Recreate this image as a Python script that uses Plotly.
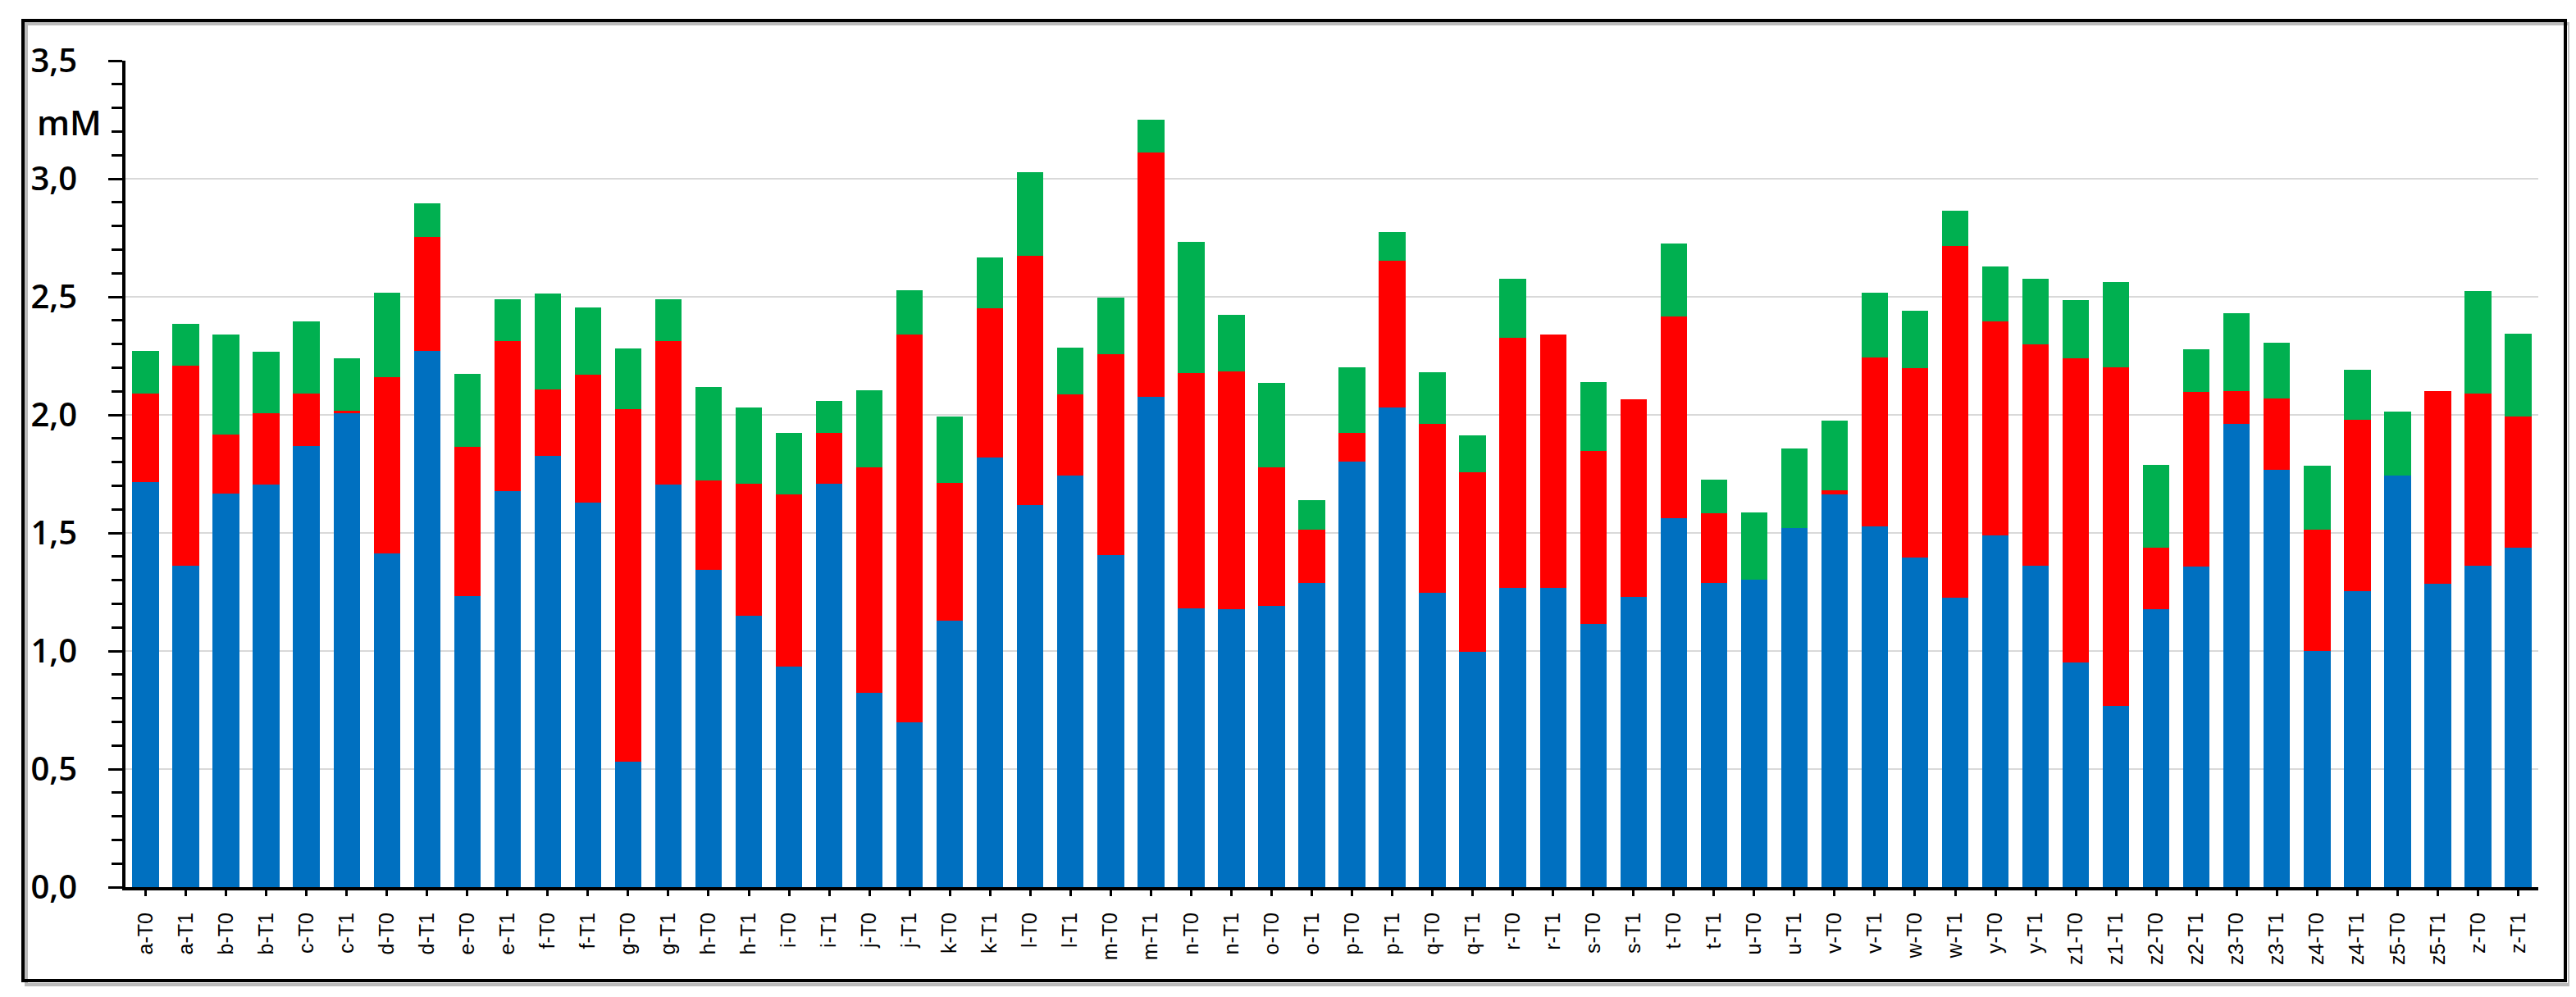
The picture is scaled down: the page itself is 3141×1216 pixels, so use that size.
import plotly.graph_objects as go

categories = [
    "a-T0", "a-T1", "b-T0", "b-T1", "c-T0", "c-T1", "d-T0", "d-T1", "e-T0", "e-T1",
    "f-T0", "f-T1", "g-T0", "g-T1", "h-T0", "h-T1", "i-T0", "i-T1", "j-T0", "j-T1",
    "k-T0", "k-T1", "l-T0", "l-T1", "m-T0", "m-T1", "n-T0", "n-T1", "o-T0", "o-T1",
    "p-T0", "p-T1", "q-T0", "q-T1", "r-T0", "r-T1", "s-T0", "s-T1", "t-T0", "t-T1",
    "u-T0", "u-T1", "v-T0", "v-T1", "w-T0", "w-T1", "y-T0", "y-T1", "z1-T0", "z1-T1",
    "z2-T0", "z2-T1", "z3-T0", "z3-T1", "z4-T0", "z4-T1", "z5-T0", "z5-T1", "z-T0", "z-T1",
]

blue_values = [
    1.715, 1.360, 1.667, 1.705, 1.868, 2.008, 1.412, 2.272, 1.234, 1.678,
    1.826, 1.628, 0.533, 1.705, 1.345, 1.151, 0.935, 1.709, 0.822, 0.699,
    1.130, 1.820, 1.619, 1.743, 1.406, 2.077, 1.182, 1.178, 1.192, 1.289,
    1.803, 2.033, 1.245, 0.998, 1.268, 1.268, 1.113, 1.228, 1.563, 1.289,
    1.301, 1.521, 1.663, 1.527, 1.397, 1.224, 1.490, 1.360, 0.952, 0.768,
    1.178, 1.356, 1.962, 1.768, 1.000, 1.255, 1.743, 1.285, 1.360, 1.437,
]

red_values = [
    0.377, 0.847, 0.251, 0.303, 0.224, 0.011, 0.747, 0.481, 0.632, 0.636,
    0.281, 0.541, 1.490, 0.607, 0.377, 0.556, 0.728, 0.216, 0.956, 1.640,
    0.583, 0.632, 1.053, 0.343, 0.851, 1.034, 0.994, 1.006, 0.586, 0.224,
    0.120, 0.620, 0.717, 0.759, 1.060, 1.071, 0.734, 0.839, 0.853, 0.293,
    0.000, 0.000, 0.019, 0.716, 0.800, 1.491, 0.905, 0.937, 1.286, 1.435,
    0.261, 0.742, 0.138, 0.301, 0.513, 0.724, 0.000, 0.815, 0.732, 0.557,
]

green_values = [
    0.178, 0.178, 0.421, 0.258, 0.303, 0.219, 0.358, 0.144, 0.306, 0.176,
    0.408, 0.285, 0.257, 0.178, 0.397, 0.326, 0.262, 0.134, 0.327, 0.190,
    0.279, 0.215, 0.355, 0.199, 0.239, 0.139, 0.556, 0.239, 0.358, 0.127,
    0.280, 0.123, 0.220, 0.157, 0.247, 0.000, 0.293, 0.000, 0.308, 0.142,
    0.287, 0.335, 0.293, 0.276, 0.244, 0.151, 0.235, 0.280, 0.247, 0.360,
    0.348, 0.180, 0.331, 0.236, 0.272, 0.211, 0.272, 0.000, 0.431, 0.349,
]

W, H = 3141, 1216
ML, MR, MT, MB = 145, 54, 66, 142
PW = W - ML - MR
PH = H - MT - MB


def px_to_paper_x(px):
    return (px - ML) / PW


def px_to_paper_y(py):
    return (H - MB - py) / PH


fig = go.Figure()
for vals, col, name in [
    (blue_values, "#0070C0", "blue"),
    (red_values, "#FF0000", "red"),
    (green_values, "#00B050", "green"),
]:
    fig.add_trace(go.Bar(
        x=categories, y=vals, name=name,
        marker=dict(color=col, line=dict(width=0)),
    ))

fig.update_layout(
    barmode="stack",
    bargap=0.34,
    width=W, height=H,
    margin=dict(l=ML, r=MR, t=MT, b=MB, autoexpand=False),
    paper_bgcolor="white",
    plot_bgcolor="white",
    showlegend=False,
    separators=",.",
    font=dict(family="Open Sans", color="black"),
)

fig.update_yaxes(
    range=[0, 3.5],
    dtick=0.5,
    tick0=0,
    tickformat=".1f",
    showgrid=True,
    gridcolor="#D9D9D9",
    gridwidth=2,
    zeroline=False,
    showline=True,
    linecolor="black",
    linewidth=4,
    ticks="outside",
    ticklen=17,
    tickwidth=3,
    tickcolor="black",
    ticklabelstandoff=30,
    tickfont=dict(family="Open Sans", size=40, color="black", weight=600),
    minor=dict(dtick=0.1, ticks="outside", ticklen=13, tickwidth=3,
               tickcolor="black", showgrid=False),
    automargin=False,
)

fig.update_xaxes(
    showline=True,
    linecolor="black",
    linewidth=4,
    ticks="outside",
    ticklen=7,
    tickwidth=3,
    tickcolor="black",
    tickangle=-90,
    ticklabelstandoff=10,
    tickfont=dict(family="Liberation Sans", size=25, color="black"),
    showgrid=False,
    automargin=False,
)

fig.add_annotation(
    text="mM",
    xref="paper", yref="paper",
    x=px_to_paper_x(76), y=px_to_paper_y(141),
    xanchor="center", yanchor="middle",
    showarrow=False,
    font=dict(family="Open Sans", size=42, color="black", weight=600),
)

# outer frame shadow and frame
fig.add_shape(
    type="rect", xref="paper", yref="paper",
    x0=px_to_paper_x(24), x1=px_to_paper_x(3125),
    y0=px_to_paper_y(1193), y1=px_to_paper_y(21),
    line=dict(color="#BBBBBB", width=4), layer="below",
)
fig.add_shape(
    type="rect", xref="paper", yref="paper",
    x0=px_to_paper_x(20), x1=px_to_paper_x(3120),
    y0=px_to_paper_y(1188), y1=px_to_paper_y(17),
    line=dict(color="black", width=4), fillcolor="rgba(0,0,0,0)", layer="above",
)

fig.write_html("out.html")
